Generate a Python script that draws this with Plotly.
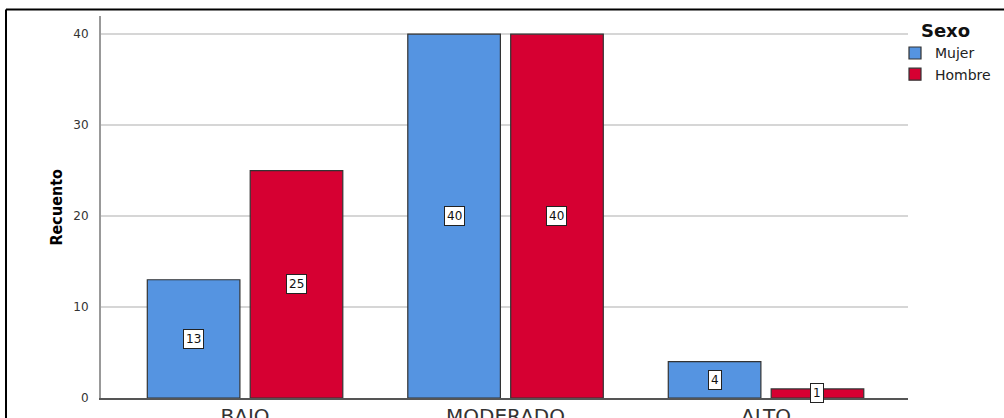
import plotly.graph_objects as go

categories = ["BAJO", "MODERADO", "ALTO"]
mujer = [13, 40, 4]
hombre = [25, 40, 1]
series_names = ["Mujer", "Hombre"]
series_colors = ["#5594E1", "#D60032"]
y_ticks = [0, 10, 20, 30, 40]

W, H = 1004, 418
L, R, T, B = 101, 96, 16, 20
BARGAP = 0.21

fig = go.Figure()
for name, vals, col in zip(series_names, [mujer, hombre], series_colors):
    fig.add_trace(go.Bar(
        name=name, x=categories, y=vals,
        marker=dict(color=col, line=dict(color="#333333", width=1.2)),
    ))

# value labels (boxed), centered in each bar
off = (1 - BARGAP) / 4
for si, vals in enumerate([mujer, hombre]):
    for ci, v in enumerate(vals):
        fig.add_annotation(
            x=ci + (-off if si == 0 else off), y=v / 2, xref="x", yref="y",
            text=str(v), showarrow=False,
            font=dict(family="DejaVu Sans", size=12, color="#111111"),
            bgcolor="white", bordercolor="#222222", borderwidth=1, borderpad=2,
        )

pw = W - L - R
ph = H - T - B
def px(xp):
    return (xp - L) / pw
def py(yp):
    return 1 - (yp - T) / ph

# outer frame (left and top edges)
fig.add_shape(type="line", xref="paper", yref="paper",
              x0=px(6), x1=px(6), y0=py(9.5), y1=py(420),
              line=dict(color="black", width=2))
fig.add_shape(type="line", xref="paper", yref="paper",
              x0=px(6), x1=px(1006), y0=py(9.5), y1=py(9.5),
              line=dict(color="black", width=2))

# y-axis title
fig.add_annotation(
    xref="paper", yref="paper", x=px(44), y=py(207),
    text="<b>Recuento</b>", textangle=-90, showarrow=False,
    font=dict(family="DejaVu Sans Condensed", size=16, color="#000000"),
)

fig.update_layout(
    width=W, height=H,
    margin=dict(l=L, r=R, t=T, b=B, autoexpand=False),
    paper_bgcolor="white", plot_bgcolor="white",
    barmode="group", bargap=BARGAP, bargroupgap=0.1,
    font=dict(family="DejaVu Sans", color="#333333"),
    showlegend=True,
    legend=dict(
        x=px(895), xanchor="left", y=py(14), yanchor="top",
        title=dict(text="<b>Sexo</b>", side="top center",
                   font=dict(family="DejaVu Sans", size=18, color="#111111")),
        font=dict(family="DejaVu Sans", size=14, color="#222222"),
        bgcolor="rgba(0,0,0,0)", itemclick=False, tracegroupgap=0,
    ),
    xaxis=dict(
        range=[-0.553, 2.545], showgrid=False,
        showline=True, linecolor="#555555", linewidth=1.5,
        ticks="", ticklabelstandoff=-1,
        tickfont=dict(family="DejaVu Sans", size=20, color="#333333"),
    ),
    yaxis=dict(
        range=[0, 42], tickvals=y_ticks,
        showgrid=True, gridcolor="#D6D6D6", gridwidth=1.5,
        showline=True, linecolor="#999999", linewidth=2,
        zeroline=False, ticks="", ticklabelstandoff=8,
        tickfont=dict(family="DejaVu Sans", size=12, color="#333333"),
    ),
)

fig.write_html("out.html", config={"displayModeBar": False},
               post_script="document.body.style.margin='0';document.body.style.overflow='hidden';")
